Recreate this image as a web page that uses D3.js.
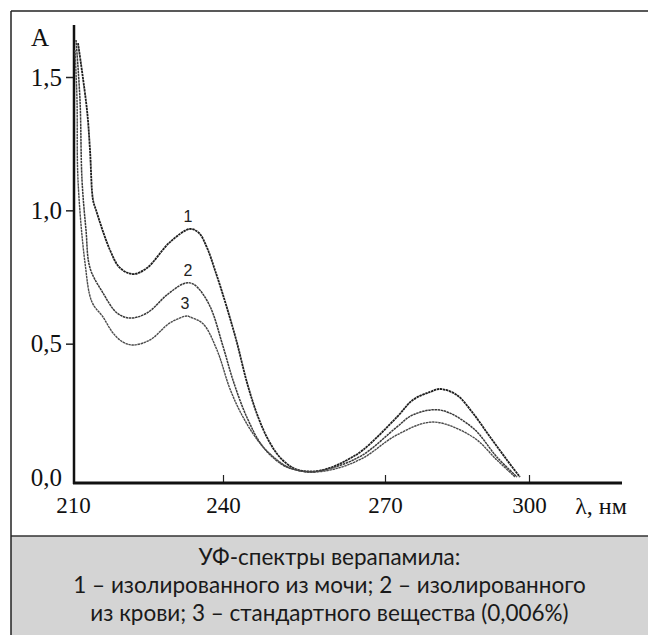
<!DOCTYPE html>
<html>
<head>
<meta charset="utf-8">
<script src="https://cdn.jsdelivr.net/npm/d3@7"></script>
<style>
  body { margin: 0; background: #fff; }
  svg { display: block; }
</style>
</head>
<body>
<svg id="chart"></svg>
<script>
const width = 648;
const height = 635;

// wavelength, nm
const wl1 = [211.0, 212.8, 213.4, 214.0, 214.6, 217.4, 219.4, 222.0, 224.8, 229.4, 233.4, 235.2, 236.8, 238.5, 240.5, 242.5, 244.5, 246.5, 248.5, 250.5, 253.0, 256.1, 259.8, 263.0, 265.9, 272.5, 275.8, 279.4, 281.5, 285.0, 288.3, 291.9, 295.4, 298.1];
const abs1 = [1.627, 1.376, 1.226, 1.039, 1.001, 0.851, 0.784, 0.761, 0.784, 0.881, 0.930, 0.915, 0.860, 0.770, 0.650, 0.510, 0.350, 0.225, 0.135, 0.075, 0.034, 0.019, 0.034, 0.064, 0.101, 0.225, 0.289, 0.319, 0.330, 0.307, 0.240, 0.150, 0.064, 0.0];

const wl2 = [210.6, 211.4, 211.8, 212.6, 213.4, 216.0, 218.8, 221.4, 224.8, 228.8, 232.0, 233.4, 234.8, 237.4, 240.0, 241.9, 244.4, 247.4, 251.1, 253.7, 257.0, 260.7, 265.9, 272.5, 275.8, 281.5, 288.3, 293.3, 297.5];
const abs2 = [1.639, 1.414, 1.114, 0.926, 0.784, 0.690, 0.615, 0.596, 0.615, 0.683, 0.724, 0.728, 0.713, 0.640, 0.490, 0.360, 0.225, 0.113, 0.045, 0.026, 0.022, 0.037, 0.083, 0.188, 0.233, 0.251, 0.184, 0.075, 0.0];

const wl3 = [210.4, 210.8, 211.0, 212.4, 213.8, 216.0, 218.0, 220.0, 222.0, 225.4, 229.4, 232.8, 233.4, 236.0, 238.8, 241.3, 243.7, 246.8, 250.0, 252.4, 256.1, 260.7, 265.9, 272.5, 280.0, 288.3, 293.3, 297.1];
const abs3 = [1.601, 1.414, 1.114, 0.803, 0.656, 0.600, 0.540, 0.506, 0.495, 0.514, 0.578, 0.604, 0.600, 0.575, 0.476, 0.330, 0.225, 0.128, 0.064, 0.034, 0.019, 0.030, 0.071, 0.158, 0.206, 0.150, 0.064, 0.0];

const seriesNames = ['1', '2', '3'];
const xTicks = [210, 240, 270, 300];
const yTicks = [0, 0.5, 1.0, 1.5];
const captionLines = [
    'УФ-спектры верапамила:',
    '1 – изолированного из мочи; 2 – изолированного',
    'из крови; 3 – стандартного вещества (0,006%)'
];

const series = [
    {name: seriesNames[0], wl: wl1, abs: abs1, color: '#1e1e1e', w: 1.8},
    {name: seriesNames[1], wl: wl2, abs: abs2, color: '#3a3a3a', w: 1.5},
    {name: seriesNames[2], wl: wl3, abs: abs3, color: '#4a4a4a', w: 1.4}
];

const serif = '"Liberation Serif", "Times New Roman", serif';

const svg = d3.select('#chart')
    .attr('width', width)
    .attr('height', height);

// the printed axis is slightly uneven, so the scale is piecewise
const x = d3.scaleLinear().domain(xTicks).range([73, 223, 385, 529]);
const y = d3.scaleLinear().domain([0, 1.5]).range([477, 77]);

const axisY = 483;
const axisX = 74;

// frame and caption box
svg.append('rect')
    .attr('x', 11).attr('y', 536)
    .attr('width', width - 11).attr('height', height - 536)
    .attr('fill', '#d4d4d4');
svg.append('line')
    .attr('x1', 11).attr('x2', width).attr('y1', 536).attr('y2', 536)
    .attr('stroke', '#333').attr('stroke-width', 1.5);
svg.append('line')
    .attr('x1', 11).attr('x2', width).attr('y1', 11).attr('y2', 11)
    .attr('stroke', '#222').attr('stroke-width', 1.5);
svg.append('line')
    .attr('x1', 11).attr('x2', 11).attr('y1', 11).attr('y2', height)
    .attr('stroke', '#222').attr('stroke-width', 1.5);

// y axis
const yAxis = svg.append('g')
    .attr('transform', `translate(${axisX},0)`)
    .call(d3.axisLeft(y).tickValues(yTicks).tickSize(8).tickPadding(4)
        .tickFormat(d => d3.format('.1f')(d).replace('.', ',')));
yAxis.select('.domain').remove();
yAxis.selectAll('line').attr('stroke', '#222').attr('stroke-width', 1.5)
    .filter(d => d === 0).remove();
yAxis.selectAll('text')
    .attr('font-family', serif)
    .attr('font-size', 25).attr('fill', '#111');

svg.append('line')
    .attr('x1', axisX).attr('x2', axisX).attr('y1', 25).attr('y2', axisY + 1)
    .attr('stroke', '#111').attr('stroke-width', 2.5);

// x axis
const xAxis = svg.append('g')
    .attr('transform', `translate(0,${axisY})`)
    .call(d3.axisBottom(x).tickValues(xTicks).tickSizeInner(-8).tickSizeOuter(0).tickPadding(14)
        .tickFormat(d3.format('d')));
xAxis.select('.domain').remove();
xAxis.selectAll('line').attr('stroke', '#222').attr('stroke-width', 1.2)
    .filter(d => d === 210).remove();
xAxis.selectAll('text')
    .attr('font-family', serif)
    .attr('font-size', 23).attr('fill', '#111');

svg.append('line')
    .attr('x1', axisX - 1).attr('x2', 622).attr('y1', axisY).attr('y2', axisY)
    .attr('stroke', '#111').attr('stroke-width', 3);

svg.append('text')
    .attr('x', 40).attr('y', 46)
    .attr('text-anchor', 'middle')
    .attr('font-family', serif)
    .attr('font-size', 25).attr('fill', '#111')
    .text('A');

svg.append('text')
    .attr('x', 601).attr('y', 514)
    .attr('text-anchor', 'middle')
    .attr('font-family', serif)
    .attr('font-size', 24).attr('fill', '#111')
    .text('λ, нм');

// spectra
const line = d3.line()
    .x(d => x(d[0]))
    .y(d => y(d[1]))
    .curve(d3.curveCatmullRom.alpha(0.5));

svg.selectAll('path.spec')
    .data(series)
    .enter()
    .append('path')
    .attr('class', 'spec')
    .attr('d', s => line(s.wl.map((w, i) => [w, s.abs[i]])))
    .attr('fill', 'none')
    .attr('stroke', s => s.color)
    .attr('stroke-width', s => s.w)
    .attr('stroke-dasharray', '2.5,0.6');

// curve numbers above the first maximum
const peakIndex = s => d3.maxIndex(s.abs.map((a, k) => s.wl[k] > 225 && s.wl[k] < 240 ? a : -1));

svg.selectAll('text.num')
    .data(series)
    .enter()
    .append('text')
    .attr('class', 'num')
    .attr('x', s => x(s.wl[peakIndex(s)]) - 2)
    .attr('y', s => y(s.abs[peakIndex(s)]) - 7)
    .attr('text-anchor', 'middle')
    .attr('font-family', '"Liberation Sans", Arial, sans-serif')
    .attr('font-size', 16).attr('fill', '#222')
    .text(s => s.name);

// caption
svg.selectAll('text.cap')
    .data(captionLines)
    .enter()
    .append('text')
    .attr('class', 'cap')
    .attr('x', (width + 11) / 2)
    .attr('y', (d, i) => 565 + i * 28)
    .attr('text-anchor', 'middle')
    .attr('font-family', 'Lato, "Noto Sans", sans-serif')
    .attr('font-size', 22.5).attr('fill', '#1a1a1a')
    .text(d => d);
</script>
</body>
</html>
